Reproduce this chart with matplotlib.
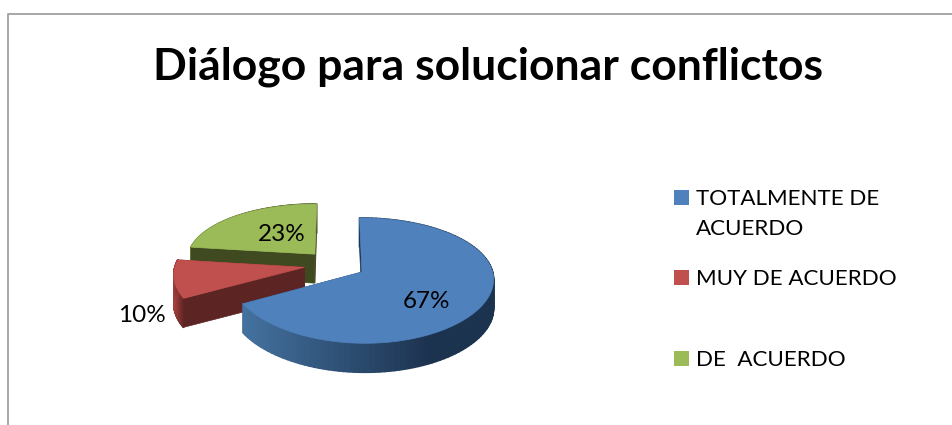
import numpy as np
import matplotlib
matplotlib.use('Agg')
import matplotlib.pyplot as plt
from matplotlib.collections import PolyCollection
from matplotlib.colors import to_rgb
from matplotlib.patches import Polygon, Rectangle

title = 'Diálogo para solucionar conflictos'
categories = ['TOTALMENTE DE\nACUERDO', 'MUY DE ACUERDO', 'DE  ACUERDO']
values = [67, 10, 23]

top_colors = ['#4f81bd', '#c0504d', '#9bbb59']
face_colors = ['#1d3352', '#5c2523', '#404a20']
# wall shading, left end to right end of the visible rim
wall_left = ['#44729f', '#a5403d', '#7f9a48']
wall_right = ['#1c3350', '#6b2a28', '#4a5626']

plt.rcParams['font.family'] = ['Lato', 'DejaVu Sans']

# perspective disc, in pixels
cx, cy = 335, 264.6
rx, ry = 129, 59.5
persp_x, persp_y = 0.10, 0.135
explode = 0.24
depth = 29


def project(u, v):
    return cx + rx * u / (1 + persp_x * v), cy - ry * v / (1 + persp_y * v)


def slice_points(start, stop):
    # angles clockwise from 12 o'clock, degrees
    mid = np.radians((start + stop) / 2)
    u0, v0 = explode * np.sin(mid), explode * np.cos(mid)
    a = np.radians(np.linspace(start, stop, 120))
    apex = project(u0, v0)
    rim_x, rim_y = project(u0 + np.sin(a), v0 + np.cos(a))
    return apex, rim_x, rim_y


def cut_face(apex, x, y, color):
    ax.add_patch(Polygon([apex, (x, y), (x, y + depth), (apex[0], apex[1] + depth)], closed=True,
                         fc=color, ec=color, lw=0.5))


fig = plt.figure(figsize=(9.52, 4.25), dpi=100)
ax = fig.add_axes([0, 0, 1, 1])
ax.set_xlim(0, 952)
ax.set_ylim(425, 0)
ax.axis('off')

# chart frame, cut by the image on the right and below
ax.plot([7.5, 7.5, 952], [425, 13.5, 13.5], color='#a0a0a0', lw=1.3, solid_capstyle='butt')

angles = np.cumsum([0] + values) * 3.6
# back slices first so the nearer ones cover them
for i in [2, 1, 0]:
    apex, rim_x, rim_y = slice_points(angles[i], angles[i + 1])
    # the closing cut face sits behind the wall
    cut_face(apex, rim_x[-1], rim_y[-1], face_colors[i])
    # curved wall, shaded by horizontal position
    quads = []
    shades = []
    left, right = np.array(to_rgb(wall_left[i])), np.array(to_rgb(wall_right[i]))
    span = max(rim_x.max() - rim_x.min(), 1)
    for k in range(len(rim_x) - 1):
        quads.append([(rim_x[k], rim_y[k]), (rim_x[k + 1], rim_y[k + 1]),
                      (rim_x[k + 1], rim_y[k + 1] + depth), (rim_x[k], rim_y[k] + depth)])
        t = min(((rim_x[k] - rim_x.min()) / span) / 0.75, 1)
        shades.append(left + (right - left) * t)
    ax.add_collection(PolyCollection(quads, facecolors=shades, edgecolors=shades, linewidths=1.2))
    cut_face(apex, rim_x[0], rim_y[0], face_colors[i])
    # top surface
    ax.add_patch(Polygon(np.vstack([apex, np.column_stack([rim_x, rim_y])]), closed=True,
                         fc=top_colors[i], ec=top_colors[i], lw=0.5))

# percent labels
label_pos = [(427, 302), (142, 316), (282, 234)]
for v, (x, y) in zip(values, label_pos):
    ax.text(x, y, '%d%%' % v, fontsize=17.5, ha='center', va='center', color='black')

ax.text(488, 67, title, fontsize=32, fontweight='bold', ha='center', va='center', color='black')

# legend
legend_y = [197.5, 277.5, 358.5]
for name, c, y in zip(categories, top_colors, legend_y):
    ax.add_patch(Rectangle((674, y - 7.5), 15, 15, fc=c, ec='none'))
    ax.text(696, y - 8.5, name, fontsize=16.1, ha='left', va='top', color='black', linespacing=1.62)

fig.savefig('out.png', dpi=100)
